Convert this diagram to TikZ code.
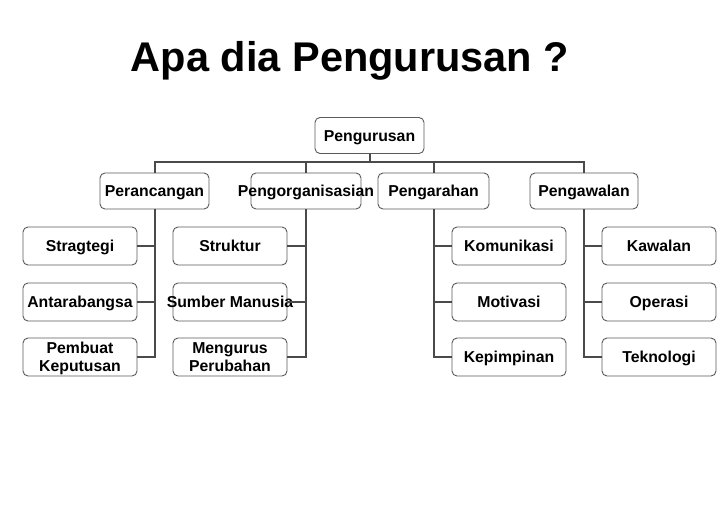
\documentclass[tikz,border=0pt]{standalone}
\usepackage{fontspec}
\setmainfont{Liberation Sans}
\usetikzlibrary{positioning}

\definecolor{linegray}{HTML}{4A4A4A}
\definecolor{boxgray}{HTML}{5A5A5A}

\tikzset{
  unitbox/.style={draw=boxgray, line width=0.9pt, rounded corners=5pt, fill=white,
    minimum width=109pt, minimum height=36pt, inner sep=1pt, align=center,
    text height=11.3pt, text depth=0pt,
    font=\fontsize{15.8}{18.5}\selectfont\bfseries},
  taskbox/.style={unitbox, minimum width=114pt, minimum height=38pt},
  twoline/.style={text height=},
  link/.style={draw=linegray, line width=2pt},
}
\newcommand{\spill}[1]{\makebox[0pt]{#1}}

\begin{document}
\begin{tikzpicture}[x=1pt, y=-1pt]
\useasboundingbox (0,0) rectangle (728,504);

\node[anchor=base] (title) at (350,71) {\fontsize{41.5}{48}\selectfont\bfseries Apa dia Pengurusan ?};

% top
\node[unitbox] (pengurusan) at (369.5,135.5) {Pengurusan};

% functions
\node[unitbox] (perancangan) at (154.5,191) {Perancangan};
\node[unitbox, minimum width=110pt] (pengorganisasian) at (306,191) {\spill{Pengorganisasian}};
\node[unitbox, minimum width=111pt] (pengarahan) at (433.5,191) {Pengarahan};
\node[unitbox, minimum width=108pt] (pengawalan) at (584,191) {Pengawalan};

% tasks
\node[taskbox] (stragtegi) at (80,246) {Stragtegi};
\node[taskbox] (antarabangsa) at (80,302) {Antarabangsa};
\node[taskbox, twoline] (keputusan) at (80,357) {Pembuat\\Keputusan};

\node[taskbox] (struktur) at (230,246) {Struktur};
\node[taskbox] (manusia) at (230,302) {\spill{Sumber Manusia}};
\node[taskbox, twoline] (perubahan) at (230,357) {Mengurus\\Perubahan};

\node[taskbox] (komunikasi) at (509,246) {Komunikasi};
\node[taskbox] (motivasi) at (509,302) {Motivasi};
\node[taskbox] (kepimpinan) at (509,357) {Kepimpinan};

\node[taskbox] (kawalan) at (659,246) {Kawalan};
\node[taskbox] (operasi) at (659,302) {Operasi};
\node[taskbox] (teknologi) at (659,357) {Teknologi};

% bus from the top box
\coordinate (bus) at ([yshift=-8pt]pengurusan.south);
\draw[link] (pengurusan.south) -- (bus);
\draw[link] (bus) -| (perancangan.north);
\draw[link] (bus) -| (pengorganisasian.north);
\draw[link] (bus) -| (pengarahan.north);
\draw[link] (bus) -| (pengawalan.north);

% left branches
\draw[link] (perancangan.south) |- (keputusan.east);
\draw[link] (stragtegi.east) -- (stragtegi.east -| perancangan.south);
\draw[link] (antarabangsa.east) -- (antarabangsa.east -| perancangan.south);
\draw[link] (pengorganisasian.south) |- (perubahan.east);
\draw[link] (struktur.east) -- (struktur.east -| pengorganisasian.south);
\draw[link] (manusia.east) -- (manusia.east -| pengorganisasian.south);

% right branches
\draw[link] (pengarahan.south) |- (kepimpinan.west);
\draw[link] (komunikasi.west) -- (komunikasi.west -| pengarahan.south);
\draw[link] (motivasi.west) -- (motivasi.west -| pengarahan.south);
\draw[link] (pengawalan.south) |- (teknologi.west);
\draw[link] (kawalan.west) -- (kawalan.west -| pengawalan.south);
\draw[link] (operasi.west) -- (operasi.west -| pengawalan.south);
\end{tikzpicture}
\end{document}
